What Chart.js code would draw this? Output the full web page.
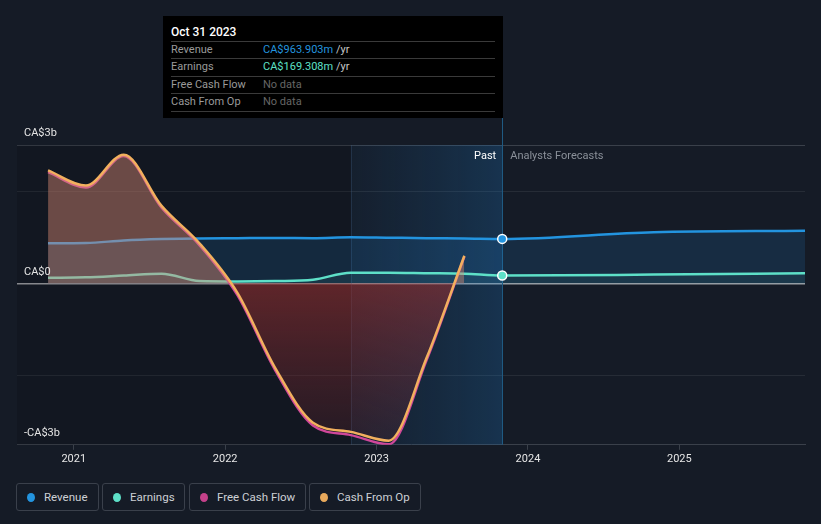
<!DOCTYPE html>
<html><head><meta charset="utf-8">
<script src="https://cdn.jsdelivr.net/npm/chart.js@4.4.0/dist/chart.umd.min.js"></script>
<style>
html,body{margin:0;padding:0;background:#151b26;width:821px;height:524px;overflow:hidden;font-family:Roboto,"Noto Sans",sans-serif;}
#c{position:absolute;left:0;top:0;}
#tip{position:absolute;left:163px;top:16px;width:340px;height:102px;background:#000;}
#tip .t{position:absolute;left:8px;top:8px;font-size:12px;line-height:16px;color:#fff;font-weight:500;}
#tip .sep{position:absolute;left:8px;width:324px;height:1px;background:#3a3a3a;}
#tip .row{position:absolute;left:8px;font-size:11px;line-height:14px;white-space:nowrap;}
#tip .l{color:#9a9a9a;display:inline-block;width:92px;}
#tip .u{color:#c8c8c8;}
#tip .nd{color:#666;}
.lg{position:absolute;top:483px;height:26px;border:1px solid #3a404b;border-radius:3px;font-size:11.5px;color:#cdd0d5;line-height:26px;box-sizing:content-box;}
.lg .d{position:absolute;left:10px;top:9px;width:8px;height:9px;border-radius:50%;}
.lg .tx{position:absolute;left:27px;top:0;white-space:nowrap;}
</style></head>
<body>
<canvas id="c" width="821" height="472"></canvas>
<div id="tip">
  <div class="t">Oct 31 2023</div>
  <div class="sep" style="top:25px"></div>
  <div class="row" style="top:27px"><span class="l">Revenue</span><span style="color:#2394df">CA$963.903m</span> <span class="u">/yr</span></div>
  <div class="sep" style="top:42px"></div>
  <div class="row" style="top:44px"><span class="l">Earnings</span><span style="color:#5ee0c8">CA$169.308m</span> <span class="u">/yr</span></div>
  <div class="sep" style="top:60px"></div>
  <div class="row" style="top:62px"><span class="l">Free Cash Flow</span><span class="nd">No data</span></div>
  <div class="sep" style="top:77px"></div>
  <div class="row" style="top:79px"><span class="l">Cash From Op</span><span class="nd">No data</span></div>
  <div class="sep" style="top:95px"></div>
</div>
<div class="lg" style="left:16px;width:81px"><span class="d" style="background:#2394df"></span><span class="tx">Revenue</span></div>
<div class="lg" style="left:102px;width:81px"><span class="d" style="background:#5ee0c8"></span><span class="tx">Earnings</span></div>
<div class="lg" style="left:189px;width:115px"><span class="d" style="background:#c4418a"></span><span class="tx">Free Cash Flow</span></div>
<div class="lg" style="left:309px;width:110px"><span class="d" style="background:#e8a95c"></span><span class="tx">Cash From Op</span></div>
<script>
// ---- data (values in CA$ billions, x in decimal years) ----
const revenueX = [2020.83,2021.08,2021.33,2021.58,2021.83,2022.08,2022.33,2022.58,2022.83,2023.08,2023.33,2023.58,2023.83,2024.83,2025.83];
const revenue  = [0.87,0.875,0.93,0.96,0.975,0.98,0.985,0.98,1.0,0.99,0.98,0.975,0.964,1.11,1.14];
const earningsX = [2020.83,2021.08,2021.33,2021.58,2021.83,2022.08,2022.33,2022.58,2022.83,2023.08,2023.33,2023.58,2023.83,2024.83,2025.83];
const earnings  = [0.12,0.13,0.17,0.21,0.05,0.04,0.05,0.08,0.23,0.23,0.22,0.21,0.169,0.19,0.22];
const cashX = [2020.83,2021.08,2021.33,2021.58,2021.83,2022.08,2022.33,2022.58,2022.83,2023.08,2023.33,2023.58];
const cashFromOp   = [2.45,2.12,2.79,1.68,0.87,-0.2,-1.83,-3.02,-3.22,-3.41,-1.62,0.6];
const freeCashFlow = [2.41,2.08,2.76,1.64,0.83,-0.25,-1.88,-3.08,-3.29,-3.49,-1.67,0.58];
const nowX = 2023.83;
const bandStartX = 2022.83;
const xMin = 2020.625, xMax = 2025.83;
const yMin = -3.5, yMax = 3;
const xTickValues = [2021,2022,2023,2024,2025];
const xTickLabels = ['2021','2022','2023','2024','2025'];
const yGridValues = [3,2,0,-2];
const yLabelValues = [3,0,-3.5];
const yLabels = ['CA$3b','CA$0','-CA$3b'];

const pts = (xs, ys) => xs.map((x,i)=>({x:x, y:ys[i]}));
const FONT = 'Roboto, "Noto Sans", sans-serif';

function negGrad(ctx){
  const ch = ctx.chart; const a = ch.chartArea;
  if(!a) return 'rgba(156,49,49,0.5)';
  const y0 = ch.scales.y.getPixelForValue(0);
  const g = ch.ctx.createLinearGradient(0, y0, 0, a.bottom);
  g.addColorStop(0, 'rgba(156,49,49,0.56)');
  g.addColorStop(1, 'rgba(120,40,50,0.18)');
  return g;
}
const nowRadius = (c) => (c.raw && c.raw.x === nowX) ? 4.5 : 0;

const decor = {
  id:'decor',
  beforeDatasetsDraw(chart){
    const {ctx, chartArea:a, scales:{x}} = chart;
    const xb = x.getPixelForValue(bandStartX), xn = x.getPixelForValue(nowX);
    ctx.save();
    ctx.fillStyle = 'rgba(0,0,0,0.13)';
    ctx.fillRect(a.left, a.top, xb - a.left, a.bottom - a.top);
    const g = ctx.createLinearGradient(xb,0,xn,0);
    g.addColorStop(0,'rgba(30,110,180,0.06)');
    g.addColorStop(1,'rgba(30,130,210,0.24)');
    ctx.fillStyle = g;
    ctx.fillRect(xb, a.top, xn - xb, a.bottom - a.top);
    ctx.strokeStyle = 'rgba(60,90,120,0.35)'; ctx.lineWidth = 1;
    ctx.beginPath(); ctx.moveTo(Math.round(xb)+0.5, a.top); ctx.lineTo(Math.round(xb)+0.5, a.bottom); ctx.stroke();
    ctx.strokeStyle = '#1f5a82';
    ctx.beginPath(); ctx.moveTo(Math.round(xn)+0.5, 118); ctx.lineTo(Math.round(xn)+0.5, a.bottom); ctx.stroke();
    ctx.restore();
  },
  afterDraw(chart){
    const {ctx, chartArea:a, scales:{x,y}} = chart;
    const xn = x.getPixelForValue(nowX);
    ctx.save();
    ctx.font = '11px ' + FONT;
    ctx.textBaseline = 'middle';
    ctx.fillStyle = '#ffffff'; ctx.textAlign = 'right';
    ctx.fillText('Past', xn - 6, a.top + 11);
    ctx.fillStyle = '#8a9099'; ctx.textAlign = 'left';
    ctx.fillText('Analysts Forecasts', xn + 8, a.top + 11);
    ctx.fillStyle = '#e4e4e4'; ctx.textBaseline = 'bottom';
    yLabelValues.forEach((v,i)=>{
      ctx.fillText(yLabels[i], 24, y.getPixelForValue(v) - 6);
    });
    ctx.restore();
  }
};

new Chart(document.getElementById('c'), {
  type:'line',
  data:{ datasets:[
    { label:'Revenue', data:pts(revenueX,revenue), borderColor:'#2394df', borderWidth:2.5,
      backgroundColor:'rgba(33,150,243,0.14)', fill:'origin', order:4,
      pointRadius:nowRadius, pointHoverRadius:0, pointBackgroundColor:'#2394df', pointBorderColor:'#fff', pointBorderWidth:1.5 },
    { label:'Earnings', data:pts(earningsX,earnings), borderColor:'#5ee0c8', borderWidth:2.5,
      backgroundColor:'rgba(94,224,200,0.07)', fill:'origin', order:3,
      pointRadius:nowRadius, pointHoverRadius:0, pointBackgroundColor:'#5ee0c8', pointBorderColor:'#fff', pointBorderWidth:1.5 },
    { label:'Free Cash Flow', data:pts(cashX,freeCashFlow), borderColor:'#d0479a', borderWidth:2.5,
      fill:false, order:2, pointRadius:0 },
    { label:'Cash From Op', data:pts(cashX,cashFromOp), borderColor:'#f2b05e', borderWidth:2.5,
      backgroundColor:negGrad, fill:{target:'origin', above:'rgba(216,137,115,0.45)'}, order:1, pointRadius:0 }
  ]},
  options:{
    responsive:false, devicePixelRatio:1, animation:false,
    layout:{padding:{left:17,right:16,top:145,bottom:3}},
    elements:{line:{cubicInterpolationMode:'monotone'}},
    plugins:{legend:{display:false}, tooltip:{enabled:false}},
    events:[],
    scales:{
      x:{ type:'linear', min:xMin, max:xMax,
        afterBuildTicks:(ax)=>{ ax.ticks = xTickValues.map(v=>({value:v})); },
        ticks:{ autoSkip:false, maxRotation:0, padding:3, color:'#e6e6e6', font:{size:11, family:FONT},
          callback:(v)=>{ const i = xTickValues.indexOf(v); return i>=0 ? xTickLabels[i] : ''; } },
        grid:{ drawOnChartArea:false, tickLength:5, color:'#3a404a' },
        border:{ color:'#3a404a', width:1 } },
      y:{ type:'linear', min:yMin, max:yMax,
        afterBuildTicks:(ax)=>{ ax.ticks = yGridValues.map(v=>({value:v})); },
        ticks:{ display:false },
        grid:{ drawTicks:false,
          color:(c)=> c.tick && c.tick.value===0 ? '#9a9da2' : (c.tick && c.tick.value===yMax ? '#3a404a' : '#262c36'),
          lineWidth:(c)=> c.tick && c.tick.value===0 ? 1.5 : 1 },
        border:{ display:false } }
    }
  },
  plugins:[decor]
});
</script>
</body></html>
